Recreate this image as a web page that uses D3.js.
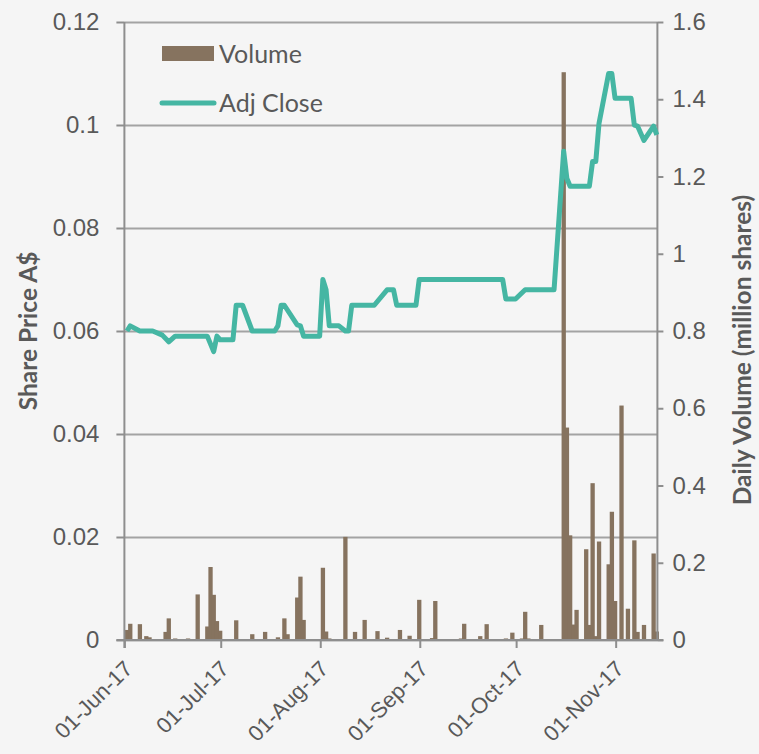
<!DOCTYPE html>
<html>
<head>
<meta charset="utf-8">
<script src="https://cdn.jsdelivr.net/npm/d3@7"></script>
<style>
  body { margin: 0; background: #f5f5f5; }
  svg { display: block; font-family: Lato, "Open Sans", sans-serif; }
  .tick text { fill: #595959; font-size: 24px; }
  .x-axis .tick text { font-size: 22px; }
</style>
</head>
<body>
<script>
// daily volume, million shares
const volDates = [
  '2017-06-01', '2017-06-02', '2017-06-05', '2017-06-07', '2017-06-08', '2017-06-13',
  '2017-06-14', '2017-06-16', '2017-06-20', '2017-06-23', '2017-06-26', '2017-06-27',
  '2017-06-28', '2017-06-29', '2017-06-30', '2017-07-05', '2017-07-10', '2017-07-14',
  '2017-07-18', '2017-07-20', '2017-07-21', '2017-07-24', '2017-07-25', '2017-07-26',
  '2017-08-01', '2017-08-02', '2017-08-03', '2017-08-08', '2017-08-11', '2017-08-14',
  '2017-08-18', '2017-08-21', '2017-08-25', '2017-08-28', '2017-08-31', '2017-09-04',
  '2017-09-05', '2017-09-13', '2017-09-14', '2017-09-19', '2017-09-21', '2017-09-27',
  '2017-09-29', '2017-10-02', '2017-10-03', '2017-10-04', '2017-10-08', '2017-10-15',
  '2017-10-16', '2017-10-17', '2017-10-18', '2017-10-19', '2017-10-22', '2017-10-23',
  '2017-10-24', '2017-10-25', '2017-10-26', '2017-10-29', '2017-10-30', '2017-10-31',
  '2017-11-02', '2017-11-04', '2017-11-06', '2017-11-07', '2017-11-09', '2017-11-12',
  '2017-11-13'
];
const volValues = [
  0.026, 0.042, 0.041, 0.010, 0.007, 0.021,
  0.056, 0.004, 0.004, 0.118, 0.035, 0.189,
  0.117, 0.049, 0.024, 0.051, 0.015, 0.021,
  0.007, 0.056, 0.015, 0.110, 0.164, 0.052,
  0.187, 0.022, 0.004, 0.267, 0.021, 0.052,
  0.023, 0.006, 0.026, 0.011, 0.104, 0.005,
  0.101, 0.004, 0.042, 0.010, 0.041, 0.004,
  0.019, 0.004, 0.073, 0.004, 0.039, 1.470,
  0.550, 0.271, 0.040, 0.078, 0.235, 0.039,
  0.406, 0.010, 0.255, 0.196, 0.332, 0.101,
  0.607, 0.081, 0.258, 0.021, 0.039, 0.224,
  0.022
];

// adjusted close, A$
const priceDates = [
  '2017-06-01', '2017-06-02', '2017-06-05', '2017-06-09', '2017-06-12', '2017-06-14',
  '2017-06-16', '2017-06-26', '2017-06-28', '2017-06-29', '2017-06-30', '2017-07-04',
  '2017-07-05', '2017-07-07', '2017-07-10', '2017-07-17', '2017-07-18', '2017-07-19',
  '2017-07-20', '2017-07-24', '2017-07-25', '2017-07-26', '2017-07-31', '2017-08-01',
  '2017-08-02', '2017-08-03', '2017-08-06', '2017-08-08', '2017-08-09', '2017-08-10',
  '2017-08-17', '2017-08-21', '2017-08-23', '2017-08-24', '2017-08-30', '2017-08-31',
  '2017-09-26', '2017-09-27', '2017-09-30', '2017-10-03', '2017-10-12', '2017-10-15',
  '2017-10-16', '2017-10-17', '2017-10-23', '2017-10-24', '2017-10-25', '2017-10-26',
  '2017-10-29', '2017-10-30', '2017-10-31', '2017-11-05', '2017-11-06', '2017-11-07',
  '2017-11-09', '2017-11-12', '2017-11-13'
];
const priceValues = [
  0.0600, 0.0610, 0.0600, 0.0600, 0.0592, 0.0579,
  0.0590, 0.0590, 0.0560, 0.0590, 0.0583, 0.0583,
  0.0650, 0.0650, 0.0600, 0.0600, 0.0610, 0.0650,
  0.0650, 0.0612, 0.0610, 0.0590, 0.0590, 0.0700,
  0.0680, 0.0610, 0.0610, 0.0600, 0.0600, 0.0650,
  0.0650, 0.0680, 0.0680, 0.0650, 0.0650, 0.0700,
  0.0700, 0.0662, 0.0662, 0.0680, 0.0680, 0.0949,
  0.0896, 0.0881, 0.0881, 0.0929, 0.0929, 0.1003,
  0.1100, 0.1100, 0.1052, 0.1052, 0.1000, 0.0998,
  0.0970, 0.0998, 0.0981
];

const priceTicks = [0, 0.02, 0.04, 0.06, 0.08, 0.1, 0.12];
const volumeTicks = [0, 0.2, 0.4, 0.6, 0.8, 1, 1.2, 1.4, 1.6];
const monthTicks = ['2017-06-01', '2017-07-01', '2017-08-01', '2017-09-01', '2017-10-01', '2017-11-01'];

const parse = d3.utcParse('%Y-%m-%d');
const width = 759, height = 754;
const plotLeft = 124.4, plotRight = 657.4, plotTop = 22, plotBottom = 640;
const axisColor = '#8e8e8e';
const textColor = '#595959';

const svg = d3.select('body').append('svg')
  .attr('width', width)
  .attr('height', height);

const x = d3.scaleUtc()
  .domain([parse('2017-06-01'), parse('2017-11-14')])
  .range([plotLeft, plotRight]);
const yPrice = d3.scaleLinear().domain([0, 0.12]).range([plotBottom, plotTop]);
const yVol = d3.scaleLinear().domain([0, 1.6]).range([plotBottom, plotTop]);

const fmt = d => d === 0 ? '0' : String(+d.toFixed(2));

// gridlines
svg.append('g')
  .attr('transform', `translate(${plotLeft},0)`)
  .call(d3.axisLeft(yPrice).tickValues(priceTicks).tickSize(-(plotRight - plotLeft)).tickFormat(''))
  .call(g => g.select('.domain').remove())
  .call(g => g.selectAll('line').attr('stroke', '#a3a3a3').attr('stroke-width', 2));

// left axis
svg.append('g')
  .attr('transform', `translate(${plotLeft},0)`)
  .call(d3.axisLeft(yPrice).tickValues(priceTicks).tickSize(8).tickPadding(17).tickFormat(fmt))
  .call(g => g.select('.domain').remove())
  .call(g => g.selectAll('line').attr('stroke', axisColor).attr('stroke-width', 2));

// bars
const barW = 4.3;
svg.append('g')
  .selectAll('rect')
  .data(volDates.map((d, i) => ({ date: parse(d), v: volValues[i] })))
  .join('rect')
  .attr('x', d => x(d.date) + 0.5)
  .attr('width', barW)
  .attr('y', d => yVol(d.v))
  .attr('height', d => yVol(0) - yVol(d.v))
  .attr('fill', '#86735f');

// axis lines on top of bars
svg.append('line')
  .attr('x1', plotLeft).attr('x2', plotLeft).attr('y1', plotTop).attr('y2', plotBottom + 8)
  .attr('stroke', axisColor).attr('stroke-width', 2);
svg.append('line')
  .attr('x1', plotRight).attr('x2', plotRight).attr('y1', plotTop).attr('y2', plotBottom)
  .attr('stroke', axisColor).attr('stroke-width', 2);
svg.append('line')
  .attr('x1', plotLeft - 8).attr('x2', plotRight + 6).attr('y1', plotBottom).attr('y2', plotBottom)
  .attr('stroke', axisColor).attr('stroke-width', 2);

// right axis
svg.append('g')
  .attr('transform', `translate(${plotRight},0)`)
  .call(d3.axisRight(yVol).tickValues(volumeTicks).tickSize(6).tickPadding(9).tickFormat(fmt))
  .call(g => g.select('.domain').remove())
  .call(g => g.selectAll('line').attr('stroke', axisColor).attr('stroke-width', 2));

// x axis
svg.append('g')
  .attr('class', 'x-axis')
  .attr('transform', `translate(0,${plotBottom})`)
  .call(d3.axisBottom(x).tickValues(monthTicks.map(parse)).tickSize(8).tickFormat(d3.utcFormat('%d-%b-%y')))
  .call(g => g.select('.domain').remove())
  .call(g => g.selectAll('line').attr('stroke', axisColor).attr('stroke-width', 2))
  .call(g => g.selectAll('text')
    .attr('text-anchor', 'end')
    .attr('dy', null)
    .attr('y', 0)
    .attr('transform', 'translate(9,30) rotate(-45)'));

svg.selectAll('.tick text').attr('fill', textColor);

// price line
const line = d3.line()
  .x(d => x(d.date) + 2.6)
  .y(d => yPrice(d.p));
svg.append('path')
  .datum(priceDates.map((d, i) => ({ date: parse(d), p: priceValues[i] })))
  .attr('d', line)
  .attr('fill', 'none')
  .attr('stroke', '#45b6a3')
  .attr('stroke-width', 5)
  .attr('stroke-linejoin', 'round');

// axis titles
svg.append('text')
  .attr('transform', 'translate(37,331) rotate(-90)')
  .attr('text-anchor', 'middle')
  .attr('font-size', 24.5)
  .attr('font-weight', 'bold')
  .attr('fill', textColor)
  .text('Share Price A$');
svg.append('text')
  .attr('transform', 'translate(751,350) rotate(-90)')
  .attr('text-anchor', 'middle')
  .attr('font-size', 24.5)
  .attr('font-weight', 'bold')
  .attr('fill', textColor)
  .text('Daily Volume (million shares)');

// legend
const legend = svg.append('g');
legend.append('rect')
  .attr('x', 162).attr('y', 46).attr('width', 52).attr('height', 15)
  .attr('fill', '#86735f');
legend.append('text')
  .attr('x', 219).attr('y', 54).attr('dy', '0.35em')
  .attr('font-size', 25).attr('fill', textColor)
  .text('Volume');
legend.append('line')
  .attr('x1', 162).attr('x2', 214).attr('y1', 103).attr('y2', 103)
  .attr('stroke', '#45b6a3').attr('stroke-width', 5).attr('stroke-linecap', 'round');
legend.append('text')
  .attr('x', 219).attr('y', 103).attr('dy', '0.35em')
  .attr('font-size', 25).attr('fill', textColor)
  .text('Adj Close');
</script>
</body>
</html>
